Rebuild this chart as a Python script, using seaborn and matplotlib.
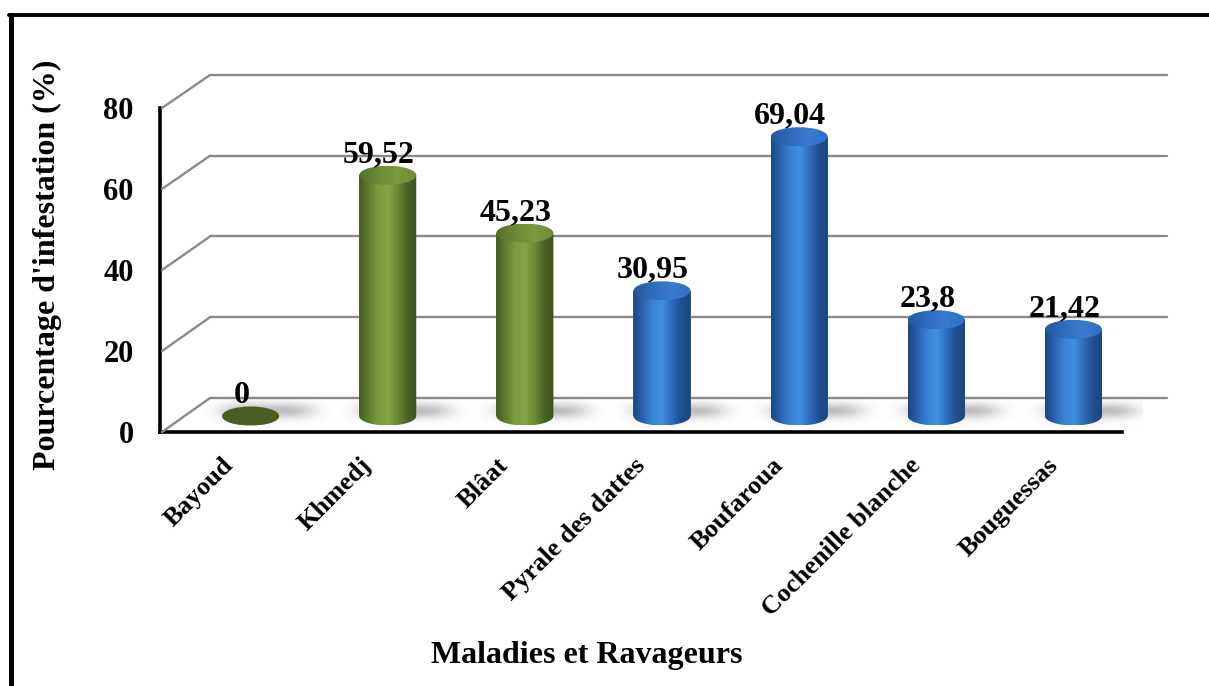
import numpy as np
import pandas as pd
import matplotlib
matplotlib.use("Agg")
import matplotlib.pyplot as plt
import seaborn as sns
from matplotlib.patches import Ellipse, Polygon
from matplotlib.lines import Line2D
from matplotlib.colors import LinearSegmentedColormap
from matplotlib.transforms import ScaledTranslation

# ---- data -------------------------------------------------------------
categories = ["Bayoud", "Khmedj", "Blâat", "Pyrale des dattes",
              "Boufaroua", "Cochenille blanche", "Bouguessas"]
values = [0, 59.52, 45.23, 30.95, 69.04, 23.8, 21.42]
groups = ["maladie", "maladie", "maladie",
          "ravageur", "ravageur", "ravageur", "ravageur"]
y_ticks = [0, 20, 40, 60, 80]
y_label = "Pourcentage d'infestation (%)"
x_label = "Maladies et Ravageurs"

# ---- styling ----------------------------------------------------------
W, H = 1209, 686
sns.set_theme(style="white")
plt.rcParams["font.family"] = ["Liberation Serif", "DejaVu Serif"]
plt.rcParams["font.weight"] = "bold"
for key in ("text.color", "axes.labelcolor", "xtick.color", "ytick.color"):
    plt.rcParams[key] = "black"

side_colors = {
    "maladie": ["#435a22", "#5e7f2e", "#7c9d3f", "#84a646", "#6b8b34", "#4a6326", "#3d5220"],
    "ravageur": ["#1b4680", "#2a62b0", "#3b82d6", "#4190e2", "#2f6cbd", "#20508f", "#1a457c"],
}
top_colors = {
    "maladie": ["#55702a", "#6b8a35", "#7a9a3e", "#6e8d37"],
    "ravageur": ["#24579c", "#2f6cbf", "#3a7bd0", "#2f6dc0"],
}
zero_top = {"maladie": "#4a5e23", "ravageur": "#1f4a85"}
bar_palette = {"maladie": "#6a8a34", "ravageur": "#2e6cc0"}
grid_color = "#8a8a8a"

fig = plt.figure(figsize=(W / 100, H / 100), dpi=100)


def box(left, right, top, bottom):
    """Pixel rectangle -> figure-fraction [l, b, w, h]."""
    return [left / W, 1 - bottom / H, (right - left) / W, (bottom - top) / H]


# back wall with the horizontal gridlines
ax_back = fig.add_axes(box(210, 1167, 75, 398))
ax_back.set_xlim(0, 1)
ax_back.set_ylim(0, 80)
for v in y_ticks:
    ax_back.axhline(v, color=grid_color, lw=1.7, clip_on=False, zorder=1)
ax_back.axis("off")

# middle layer: the cylinders
px_per_unit = 4.045
zero_px = 416
ymin = -6
ax_bar = fig.add_axes(box(182, 1142, zero_px - 80 * px_per_unit,
                          zero_px - ymin * px_per_unit))
df = pd.DataFrame({"cat": categories, "val": values, "grp": groups})
sns.barplot(data=df, x="cat", y="val", hue="grp", palette=bar_palette,
            width=0.416, dodge=False, legend=False, ax=ax_bar,
            edgecolor="none", zorder=2)
ax_bar.set_xlim(-0.5, len(categories) - 0.5)
ax_bar.set_ylim(ymin, 80)
ax_bar.set_facecolor("none")
ax_bar.axis("off")

ell_h = 19 / px_per_unit          # ellipse height in data units
patches = sorted(ax_bar.patches, key=lambda p: p.get_x())
grad = np.linspace(0, 1, 256)[None, :]

for p, v, g in zip(patches, values, groups):
    x0, w, h = p.get_x(), p.get_width(), p.get_height()
    cx = x0 + w / 2

    # soft floor shadow
    xs = np.linspace(cx - 0.4, cx + 0.7, 200)
    ys = np.linspace(-3, 6, 80)
    X, Y = np.meshgrid(xs, ys)
    a = 0.58 * np.exp(-(((X - (cx + 0.12)) / 0.34) ** 4)) * np.exp(-((Y - 1.2) / 1.9) ** 2)
    rgba = np.zeros(X.shape + (4,))
    rgba[..., :3] = 0.55
    rgba[..., 3] = a
    ax_bar.imshow(rgba, extent=(xs[0], xs[-1], ys[0], ys[-1]), origin="lower",
                  aspect="auto", zorder=1.5, interpolation="bilinear")

    # cylinder body: rectangle plus lower half ellipse, shaded left->right
    th = np.linspace(np.pi, 2 * np.pi, 80)
    verts = [(x0, h)] + list(zip(cx + w / 2 * np.cos(th), ell_h / 2 * np.sin(th))) + [(x0 + w, h)]
    body = Polygon(verts, closed=True, facecolor="none", edgecolor="none",
                   transform=ax_bar.transData)
    cmap = LinearSegmentedColormap.from_list(g + "_side", side_colors[g])
    im = ax_bar.imshow(grad, cmap=cmap, extent=(x0, x0 + w, -ell_h / 2, max(h, 0.01)),
                       aspect="auto", zorder=3, interpolation="bicubic")
    im.set_clip_path(body)

    # cylinder top
    top = Ellipse((cx, h), w, ell_h, facecolor="none", edgecolor="none",
                  transform=ax_bar.transData)
    ax_bar.add_patch(top)
    if h > 0:
        tcmap = LinearSegmentedColormap.from_list(g + "_top", top_colors[g])
        tim = ax_bar.imshow(grad, cmap=tcmap,
                            extent=(x0, x0 + w, h - ell_h / 2, h + ell_h / 2),
                            aspect="auto", zorder=4, interpolation="bicubic")
        tim.set_clip_path(top)
    else:
        top.set_facecolor(zero_top[g])
        top.set_zorder(4)

    label = f"{v:g}".replace(".", ",")
    ax_bar.annotate(label, (cx, h), xytext=(-9, 13), textcoords="offset pixels",
                    ha="center", va="baseline", fontsize=23, fontweight="bold",
                    color="black", zorder=6)

# front layer: black axes and tick labels
ax_front = fig.add_axes(box(160, 1122, 108, 432))
ax_front.set_facecolor("none")
ax_front.set_xlim(-0.5, len(categories) - 0.5)
ax_front.set_ylim(0, 80)
ax_front.set_yticks(y_ticks)
ax_front.set_yticklabels([str(t) for t in y_ticks], fontsize=22, fontweight="bold",
                         color="black")
ax_front.set_xticks(range(len(categories)))
ax_front.set_xticklabels(categories, rotation=45, ha="right",
                         rotation_mode="anchor", fontsize=19, fontweight="bold",
                         color="black")
ax_front.tick_params(axis="y", length=0, pad=19)
ax_front.tick_params(axis="x", length=0, pad=12)
shift = ScaledTranslation(-7 / 100, -5 / 100, fig.dpi_scale_trans)
for lab in ax_front.get_xticklabels():
    lab.set_transform(lab.get_transform() + shift)
for s in ("top", "right"):
    ax_front.spines[s].set_visible(False)
for s in ("left", "bottom"):
    ax_front.spines[s].set_color("black")
    ax_front.spines[s].set_linewidth(2.6)
ax_front.grid(False)

# side wall: diagonals joining the back gridlines to the front axis
inv = fig.transFigure.inverted()
for v in y_ticks:
    pb = inv.transform(ax_back.transData.transform((0, v)))
    pf = inv.transform(ax_front.transData.transform((-0.5, v)))
    fig.add_artist(Line2D([pf[0] + 2 / W, pb[0]], [pf[1], pb[1]],
                          color=grid_color, lw=1.7, zorder=0.5))

# axis titles
fig.text(47 / W, 1 - 265 / H, y_label, rotation=90, ha="center", va="center",
         fontsize=23, fontweight="bold", color="black")
fig.text(587 / W, 1 - 655 / H, x_label, ha="center", va="center",
         fontsize=23, fontweight="bold", color="black")

# outer frame (left and top edges)
fig.add_artist(Line2D([10.5 / W, 10.5 / W], [0, 1 - 14.5 / H], color="black", lw=3.6))
fig.add_artist(Line2D([8.5 / W, 1], [1 - 14.5 / H, 1 - 14.5 / H], color="black", lw=2.8))

fig.savefig("out.png", dpi=100)
